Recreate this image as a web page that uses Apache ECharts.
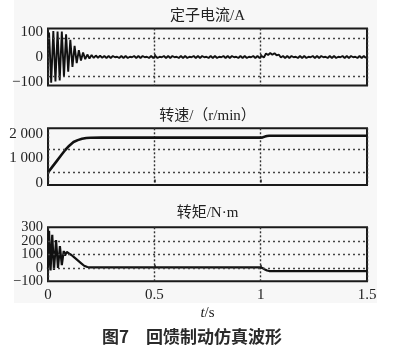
<!DOCTYPE html>
<html><head><meta charset="utf-8">
<script src="https://cdn.jsdelivr.net/npm/echarts@6/dist/echarts.min.js"></script>
<style>html,body{margin:0;padding:0;background:#fff}#c{width:394px;height:352px}</style>
</head><body><div id="c"></div>
<script>
// ---- data ----
const timeTicks = [0, 0.5, 1, 1.5];

// stator current: successive half-cycle peaks (sample spacing 0.01 s, first at 0.005 s)
const currentStart = 0.005, currentStep = 0.01;
const currentValues = [
  100,-105,106,-100,104,-95,104,-80,92,-60,70,-40,45,-25,28,-14,18,-9,10,-6,8,-4,6,-3,5,-3,
  4,-4,4,-4,4,-1,1,-4,4,-4,4,-4,1,-1,
  4,-4,4,-4,4,-1,1,-4,4,-4,4,-4,1,-1,
  4,-4,4,-4,4,-1,1,-4,4,-4,4,-4,1,-1,
  4,-4,4,-4,4,-1,1,-4,4,-4,4,-4,1,-1,
  4,-4,4,-4,4,-1,1,-4,4,-4,4,-4,1,-1,
  4,-4,4,-4,
  4,-2,14,8,16,9,15,7,10,-2,
  4,-4,4,-4,4,-1,1,-4,4,-4,4,-4,1,-1,
  4,-4,4,-4,4,-1,1,-4,4,-4,4,-4,1,-1,
  4,-4,4,-4,4,-1,1,-4,4,-4,4,-4
];
const currentLabels = [-100, 0, 100];
const currentGridLines = [75, -78];

// speed r/min
const speedTimes  = [0, 0.02, 0.04, 0.06, 0.08, 0.1, 0.12, 0.14, 0.16, 0.18, 0.2, 0.25, 0.5, 1.0, 1.01, 1.02, 1.03, 1.04, 1.5];
const speedValues = [420, 650, 880, 1110, 1340, 1530, 1680, 1760, 1820, 1850, 1860, 1865, 1865, 1865, 1875, 1905, 1930, 1940, 1940];
const speedLabels = [0, 1000, 2000];
const speedGridLines = [1400, 430];

// torque N·m
const torqueTimes  = [0, 0.005, 0.012, 0.02, 0.028, 0.038, 0.047, 0.056, 0.065, 0.074, 0.08, 0.088, 0.1, 0.11, 0.125, 0.14, 0.155, 0.17, 0.185, 0.2, 0.22, 0.5, 0.8, 1.0, 1.01, 1.02, 1.03, 1.04, 1.06, 1.5];
const torqueValues = [-10, 275, -20, 245, -15, 205, 0, 160, 20, 125, 90, 118, 105, 95, 75, 55, 35, 15, 6, 3, 3, 3, 3, 3, -3, -12, -20, -24, -25, -25];
const torqueLabels = [-100, 0, 100, 200, 300];
const torqueGridLines = [0, 100, 200];

// ---- chart ----
const currentData = currentValues.map((v, i) => [currentStart + i * currentStep, v]);
const speedData = speedTimes.map((t, i) => [t, speedValues[i]]);
const torqueData = torqueTimes.map((t, i) => [t, torqueValues[i]]);

const serif = 'Liberation Serif, "Noto Sans CJK SC", serif';
const fmt = v => {
  let s = String(Math.abs(v)).replace(/\B(?=(\d{3})+(?!\d))/g, ' ');
  return (v < 0 ? '\u2212' : '') + s;
};

const grids = [
  {left: 48, right: 27, top: 28.5, height: 57},
  {left: 48, right: 27, top: 128.3, height: 56.7},
  {left: 48, right: 27, top: 227.3, height: 54}
].map(g => Object.assign(g, {show: true, borderColor: '#1a1a1a', borderWidth: 2, backgroundColor: 'transparent', containLabel: false}));

const xAxes = [0, 1, 2].map(i => ({
  type: 'value', gridIndex: i, min: timeTicks[0], max: timeTicks[timeTicks.length - 1], interval: timeTicks[1] - timeTicks[0],
  axisLine: {show: false},
  axisTick: {show: true, inside: true, length: 3, lineStyle: {color: '#222', width: 1.5}},
  axisLabel: {show: i === 2, margin: 6, fontFamily: serif, fontSize: 15, color: '#222', formatter: v => String(v)},
  splitLine: {show: true, lineStyle: {type: [2, 2], color: '#333', width: 1.4}},
  name: i === 2 ? '{i|t}/s' : '',
  nameLocation: 'middle', nameGap: 24,
  nameTextStyle: {fontFamily: serif, fontSize: 15, color: '#222', rich: {i: {fontStyle: 'italic', fontFamily: serif, fontSize: 15, color: '#222'}}}
}));

function yAxis(i, min, max, labels, fs) {
  return {
    type: 'value', gridIndex: i, min: min, max: max, position: 'left',
    axisLine: {show: false},
    axisTick: {show: false},
    axisLabel: {customValues: labels, showMinLabel: true, showMaxLabel: true, hideOverlap: false,
      margin: 5, fontFamily: serif, fontSize: fs, color: '#222', formatter: fmt},
    splitLine: {show: false}
  };
}
const tMin = torqueLabels[0], tMax = torqueLabels[torqueLabels.length - 1];
const yAxes = [
  yAxis(0, -116, 116, currentLabels, 15),
  yAxis(1, -100, 2250, speedLabels, 15),
  // torque labels are tightly packed: split across two overlaid axes so none get auto-hidden
  yAxis(2, tMin, tMax, torqueLabels.filter((v, k) => k % 2 === 0), 14.5),
  yAxis(2, tMin, tMax, torqueLabels.filter((v, k) => k % 2 === 1), 14.5)
];

function gridMark(vals) {
  return {
    silent: true, symbol: ['none', 'none'], label: {show: false},
    lineStyle: {type: [2, 3], color: '#444', width: 1.3},
    data: vals.map(v => ({yAxis: v}))
  };
}

const series = [
  {type: 'line', xAxisIndex: 0, yAxisIndex: 0, data: currentData, showSymbol: false, lineStyle: {color: '#111', width: 1.9}, markLine: gridMark(currentGridLines), animation: false},
  {type: 'line', xAxisIndex: 1, yAxisIndex: 1, data: speedData, showSymbol: false, lineStyle: {color: '#111', width: 2.6}, markLine: gridMark(speedGridLines), animation: false},
  {type: 'line', xAxisIndex: 2, yAxisIndex: 2, data: torqueData, showSymbol: false, lineStyle: {color: '#111', width: 2.2}, markLine: gridMark(torqueGridLines), animation: false}
];

const titleStyle = {fontFamily: serif, fontSize: 15, fontWeight: 'normal', color: '#222', lineHeight: 18};
const chart = echarts.init(document.getElementById('c'), null, {renderer: 'canvas'});
chart.setOption({
  backgroundColor: '#fff',
  animation: false,
  graphic: [{type: 'rect', z: -100, silent: true, shape: {x: 14, y: 0, width: 363, height: 303}, style: {fill: '#f7f7f7'}}],
  title: [
    {text: '定子电流/A', left: 207.5, top: 7, textAlign: 'center', padding: 0, textStyle: titleStyle},
    {text: '转速/（r/min）', left: 207.5, top: 107, textAlign: 'center', padding: 0, textStyle: titleStyle},
    {text: '转矩/N·m', left: 207.5, top: 204, textAlign: 'center', padding: 0, textStyle: titleStyle},
    {text: '图7\u3000回馈制动仿真波形', left: 192, top: 327, textAlign: 'center', padding: 0,
     textStyle: {fontFamily: '"Noto Sans CJK SC", sans-serif', fontSize: 17, fontWeight: 'bold', color: '#2a2a2a', lineHeight: 20}}
  ],
  grid: grids,
  xAxis: xAxes,
  yAxis: yAxes,
  series: series
});
</script>
</body></html>
